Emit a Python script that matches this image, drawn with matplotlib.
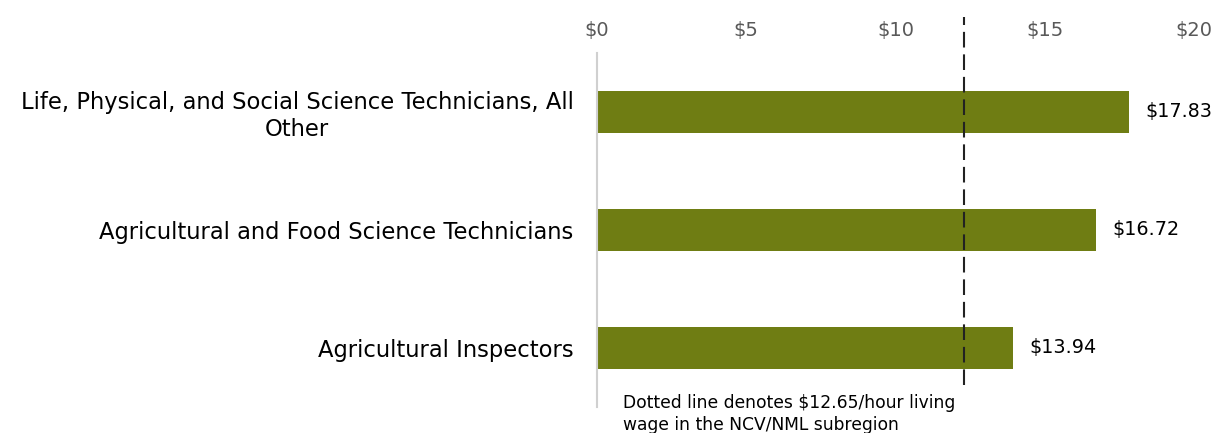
import matplotlib.pyplot as plt

occupations = ["Life, Physical, and Social Science Technicians, All\nOther",
               "Agricultural and Food Science Technicians",
               "Agricultural Inspectors"]
wages = [17.83, 16.72, 13.94]
ticks = [0, 5, 10, 15, 20]
tick_labels = ["$0", "$5", "$10", "$15", "$20"]
living_wage_line = 12.3
note = "Dotted line denotes $12.65/hour living\nwage in the NCV/NML subregion"

plt.rcParams['font.family'] = ['DejaVu Sans']

fig = plt.figure(figsize=(12.17, 4.33), dpi=100)
ax = fig.add_axes([0.4906, 0.06, 0.4905, 0.818])

y = list(range(len(occupations)))
ax.barh(y, wages, height=0.35, color="#6f7d13")
ax.set_ylim(2.5, -0.5)
ax.set_xlim(0, 20)

for yi, w in zip(y, wages):
    ax.text(w + 0.55, yi, f"${w:.2f}", va="center", ha="left", fontsize=13.8, color="black")

ax.axvline(living_wage_line, color="#222222", lw=1.5, ls=(0, (7.5, 3.3)),
           ymin=0.062, ymax=1.10, clip_on=False)

ax.xaxis.tick_top()
ax.set_xticks(ticks)
ax.set_xticklabels(tick_labels, fontsize=14, color="#595959")
ax.tick_params(axis="x", length=0, pad=9)
ax.set_yticks(y)
ax.set_yticklabels(occupations, fontsize=16.3, color="black",
                   multialignment="center", linespacing=1.2)
ax.tick_params(axis="y", length=0, pad=17)

for s in ["top", "right", "bottom"]:
    ax.spines[s].set_visible(False)
ax.spines["left"].set_color("#d0d0d0")
ax.spines["left"].set_linewidth(1.5)

fig.text(623 / 1217, 1 - 414 / 433, note, fontsize=12.3, ha="left", va="center",
         linespacing=1.35, color="black")

fig.savefig("out.png", dpi=100)
